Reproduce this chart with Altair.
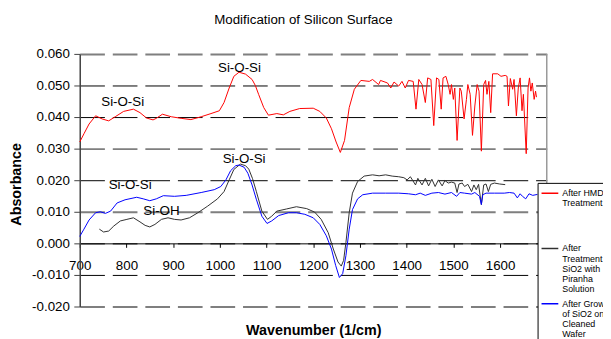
import altair as alt
import pandas as pd

chart_title = "Modification of Silicon Surface"
x_title = "Wavenumber (1/cm)"
y_title = "Absorbance"

series_names = [
    "After HMDS Treatment",
    "After Treatment of SiO2  with Piranha Solution",
    "After Growth of SiO2 on Cleaned Wafer",
]
series_colors = ["#FF0000", "#303030", "#0000FF"]

hmds_wn = [700, 709, 720, 734, 748, 762, 776, 794, 815, 829, 843, 857, 864, 877, 896, 917, 938, 960, 981, 999,
           1009, 1020, 1030, 1041, 1055, 1069, 1076, 1083, 1094, 1104, 1122, 1136, 1150, 1171, 1200, 1214, 1228,
           1239, 1249, 1258, 1267, 1277, 1288, 1302, 1320, 1327, 1340, 1344, 1359, 1366, 1373, 1383, 1390, 1397,
           1404, 1414, 1420, 1426, 1433, 1440, 1445, 1452, 1458, 1464, 1469, 1474, 1478, 1484, 1489, 1493, 1496,
           1500, 1503, 1508, 1514, 1517, 1523, 1528, 1531, 1536, 1541, 1546, 1551, 1555, 1560, 1565, 1569, 1572,
           1576, 1580, 1584, 1595, 1602, 1611, 1615, 1618, 1622, 1627, 1630, 1635, 1639, 1643, 1647, 1650, 1656,
           1660, 1663, 1666, 1669, 1673, 1676, 1678]
hmds_abs = [0.0321, 0.0347, 0.0378, 0.0404, 0.0394, 0.0388, 0.0401, 0.0418, 0.0425, 0.0414, 0.0397, 0.0391,
            0.0396, 0.0409, 0.0401, 0.0396, 0.0392, 0.0401, 0.0411, 0.0420, 0.0446, 0.0492, 0.0529, 0.0542,
            0.0536, 0.0519, 0.0500, 0.0472, 0.0430, 0.0406, 0.0411, 0.0407, 0.0418, 0.0427, 0.0428, 0.0418,
            0.0397, 0.0363, 0.0321, 0.0288, 0.0326, 0.0430, 0.0488, 0.0516, 0.0513, 0.0519, 0.0503, 0.0516,
            0.0508, 0.0492, 0.0511, 0.0498, 0.0513, 0.0492, 0.0516, 0.0513, 0.0425, 0.0519, 0.0503, 0.0446,
            0.0524, 0.0519, 0.0373, 0.0524, 0.0519, 0.0425, 0.0524, 0.0529, 0.0503, 0.0472, 0.0503, 0.0456,
            0.0492, 0.0326, 0.0492, 0.0482, 0.0394, 0.0456, 0.0503, 0.0472, 0.0342, 0.0435, 0.0503, 0.0482,
            0.0292, 0.0503, 0.0516, 0.0472, 0.0513, 0.0414, 0.0537, 0.0537, 0.0529, 0.0532, 0.0529, 0.0435,
            0.0522, 0.0488, 0.0519, 0.0404, 0.0492, 0.0524, 0.0420, 0.0472, 0.0284, 0.0492, 0.0524, 0.0482,
            0.0508, 0.0456, 0.0482, 0.0463]

piranha_wn = [742, 751, 762, 773, 787, 801, 815, 829, 840, 850, 861, 875, 889, 903, 917, 935, 953, 974, 995, 1009,
              1020, 1030, 1044, 1055, 1062, 1070, 1078, 1090, 1102, 1111, 1122, 1143, 1164, 1186, 1203, 1217, 1232,
              1243, 1253, 1260, 1265, 1270, 1277, 1284, 1295, 1309, 1327, 1341, 1355, 1369, 1383, 1394, 1401, 1408,
              1419, 1424, 1433, 1440, 1447, 1454, 1461, 1468, 1476, 1482, 1489, 1496, 1503, 1508, 1512, 1519, 1524,
              1531, 1539, 1544, 1549, 1554, 1560, 1565, 1570, 1575, 1580, 1588, 1599, 1611]
piranha_abs = [0.0045, 0.0036, 0.0039, 0.0055, 0.0071, 0.0076, 0.0081, 0.0068, 0.0057, 0.0052, 0.0060, 0.0076,
               0.0081, 0.0076, 0.0074, 0.0081, 0.0097, 0.0118, 0.0141, 0.0164, 0.0201, 0.0234, 0.0251, 0.0246,
               0.0235, 0.0205, 0.0165, 0.0102, 0.0076, 0.0086, 0.0102, 0.0109, 0.0116, 0.0110, 0.0099, 0.0076,
               0.0034, -0.0018, -0.0059, -0.0072, -0.0054, 0.0003, 0.0097, 0.0159, 0.0196, 0.0213, 0.0217, 0.0214,
               0.0217, 0.0213, 0.0211, 0.0208, 0.0201, 0.0211, 0.0185, 0.0206, 0.0185, 0.0206, 0.0182, 0.0203,
               0.0180, 0.0201, 0.0182, 0.0199, 0.0191, 0.0194, 0.0191, 0.0161, 0.0188, 0.0191, 0.0180, 0.0187,
               0.0164, 0.0185, 0.0170, 0.0187, 0.0123, 0.0185, 0.0188, 0.0164, 0.0187, 0.0191, 0.0188, 0.0186]

sio2_wn = [700, 709, 720, 734, 744, 755, 766, 780, 797, 822, 836, 850, 864, 879, 903, 928, 960, 988, 1002, 1013,
           1023, 1034, 1041, 1052, 1060, 1069, 1078, 1090, 1101, 1111, 1126, 1147, 1164, 1182, 1200, 1214, 1228,
           1239, 1248, 1256, 1263, 1270, 1277, 1284, 1295, 1306, 1327, 1355, 1383, 1404, 1419, 1429, 1440, 1454,
           1468, 1482, 1496, 1507, 1514, 1524, 1539, 1546, 1556, 1560, 1563, 1570, 1588, 1609, 1620, 1630, 1637,
           1643, 1648, 1655, 1662, 1670, 1680]
sio2_abs = [0.0022, 0.0045, 0.0074, 0.0097, 0.0100, 0.0095, 0.0102, 0.0128, 0.0138, 0.0146, 0.0141, 0.0135,
            0.0141, 0.0151, 0.0149, 0.0152, 0.0161, 0.0170, 0.0180, 0.0201, 0.0230, 0.0246, 0.0248, 0.0241,
            0.0222, 0.0185, 0.0140, 0.0086, 0.0063, 0.0071, 0.0088, 0.0097, 0.0097, 0.0092, 0.0081, 0.0060,
            0.0024, -0.0018, -0.0070, -0.0108, -0.0096, -0.0039, 0.0045, 0.0107, 0.0141, 0.0154, 0.0159, 0.0159,
            0.0159, 0.0157, 0.0154, 0.0159, 0.0152, 0.0159, 0.0161, 0.0156, 0.0161, 0.0149, 0.0161, 0.0159,
            0.0156, 0.0161, 0.0149, 0.0123, 0.0154, 0.0159, 0.0159, 0.0159, 0.0161, 0.0159, 0.0144, 0.0157,
            0.0149, 0.0141, 0.0157, 0.0152, 0.0155]

ann_text = ["Si-O-Si", "Si-O-Si", "Si-O-Si", "Si-O-Si", "Si-OH"]
ann_x = [792, 1042, 1052, 808, 875]
ann_y = [0.0449, 0.0555, 0.0266, 0.0185, 0.0102]

x_ticks = [700, 800, 900, 1000, 1100, 1200, 1300, 1400, 1500, 1600]
y_ticks = [-0.02, -0.01, 0.0, 0.01, 0.02, 0.03, 0.04, 0.05, 0.06]
x_domain = [700, 1700]
y_domain = [-0.02, 0.06]

rows = []
for name, wns, vals in zip(series_names, [hmds_wn, piranha_wn, sio2_wn], [hmds_abs, piranha_abs, sio2_abs]):
    for w, v in zip(wns, vals):
        rows.append({"series": name, "wn": w, "abs": v})
df = pd.DataFrame(rows)
ann_df = pd.DataFrame({"label": ann_text, "wn": ann_x, "abs": ann_y})

FONT = "Liberation Sans"
W, H = 473.3, 256
zero_offset = (y_domain[1] - 0) / (y_domain[1] - y_domain[0]) * H - H

x_scale = alt.Scale(domain=x_domain, nice=False, zero=False)
y_scale = alt.Scale(domain=y_domain, nice=False, zero=False)

label_expr = (
    "datum.label == 'After HMDS Treatment' ? ['After HMDS', 'Treatment'] : "
    "datum.label == 'After Growth of SiO2 on Cleaned Wafer' ? ['After Growth', 'of SiO2 on', 'Cleaned', 'Wafer'] : "
    "['After', 'Treatment of', 'SiO2  with', 'Piranha', 'Solution']"
)

gray_test = "indexof([6, 3, 1, -2], round(datum.value * 100)) >= 0"

x_axis = alt.Axis(values=x_ticks, format="d", offset=zero_offset, grid=False,
                  domainColor="black", domainWidth=1, tickColor="black", tickSize=4,
                  labelPadding=11, labelFont=FONT, labelFontSize=13.5, labelColor="black",
                  titleFont=FONT, titleFontSize=14.5, titleFontWeight="bold", titleColor="black",
                  titleY=88, titleBaseline="middle", labelFlush=False, labelOverlap=False)
y_axis = alt.Axis(values=y_ticks, format=".3f",
                  labelExpr="replace(datum.label, '\u2212', '-')",
                  domainColor="#404040", domainWidth=1.5, tickColor="#404040", tickSize=6,
                  labelPadding=4.5, labelFont=FONT, labelFontSize=13.5, labelColor="black",
                  labelOverlap=False, labelFlush=False,
                  gridDash=[25, 8],
                  gridColor={"condition": {"test": gray_test, "value": "#7f7f7f"}, "value": "black"},
                  gridWidth={"condition": {"test": gray_test, "value": 2}, "value": 1},
                  gridOpacity=1,
                  titleFont=FONT, titleFontSize=14.5, titleFontWeight="bold", titleColor="black",
                  titleX=-64, titleY=131.7, titleAngle=270, titleBaseline="middle",
                  titleAlign="center")

lines = alt.Chart(df).mark_line(strokeWidth=1).encode(
    x=alt.X("wn:Q", scale=x_scale, title=x_title, axis=x_axis),
    y=alt.Y("abs:Q", scale=y_scale, title=y_title, axis=y_axis),
    color=alt.Color("series:N", sort=series_names,
                    scale=alt.Scale(domain=series_names, range=series_colors),
                    legend=alt.Legend(orient="none", legendX=464, legendY=130.7, title=None,
                                      fillColor="white", strokeColor="black", padding=1,
                                      symbolType="M-1,0H1", symbolSize=289, symbolStrokeWidth=1.5,
                                      symbolOffset=2,
                                      labelFont=FONT, labelFontSize=9, labelColor="black",
                                      labelOffset=3, labelExpr=label_expr, gridAlign="all",
                                      rowPadding=0, labelBaseline="middle", labelLimit=0)),
)

border = alt.Chart(pd.DataFrame({"wn": [x_domain[1]]})).mark_rule(color="#999999", strokeWidth=1.5).encode(
    x=alt.X("wn:Q", scale=x_scale, title=x_title, axis=x_axis)
)

notes = alt.Chart(ann_df).mark_text(font=FONT, fontSize=13.5, color="black", align="center",
                                    baseline="middle").encode(
    x=alt.X("wn:Q", scale=x_scale, title=x_title, axis=x_axis),
    y=alt.Y("abs:Q", scale=y_scale, title=y_title, axis=y_axis),
    text="label:N",
)

chart = alt.layer(lines, border, notes).properties(
    width=W, height=H,
    title=alt.TitleParams(chart_title, font=FONT, fontSize=13.5, fontWeight="normal", color="black",
                          anchor="middle", dx=-10, offset=21),
    autosize=alt.AutoSizeParams(type="none"),
    padding={"left": 72.7, "top": 44.3, "right": 57, "bottom": 30.7},
    background="white",
).configure(
    view=alt.ViewConfig(strokeWidth=0),
    style={"guide-label": {"lineHeight": 10.3}},
)

chart.save("out.html", embed_options={"renderer": "svg", "actions": False})
